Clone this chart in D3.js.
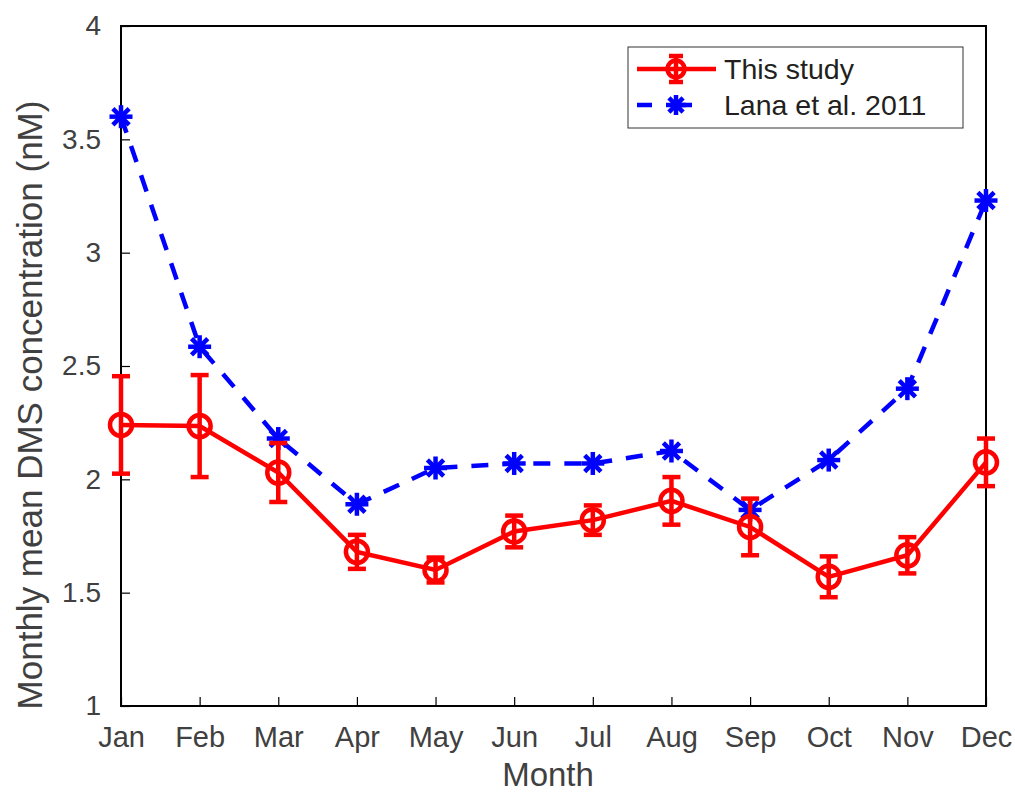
<!DOCTYPE html>
<html>
<head>
<meta charset="utf-8">
<style>
  body, html { margin: 0; padding: 0; background: #fff; overflow: hidden; }
  text { font-family: "Liberation Sans", Arial, Helvetica, sans-serif; }
</style>
</head>
<body>
<svg width="1015" height="794"></svg>
<script src="https://d3js.org/d3.v7.min.js"></script>
<script>
    var months = ["Jan","Feb","Mar","Apr","May","Jun","Jul","Aug","Sep","Oct","Nov","Dec"];
    var thisStudy = [2.24, 2.235, 2.03, 1.68, 1.60, 1.77, 1.82, 1.905, 1.79, 1.57, 1.665, 2.075];
    var thisStudyErr = [0.215, 0.225, 0.13, 0.075, 0.055, 0.07, 0.065, 0.105, 0.125, 0.09, 0.08, 0.105];
    var lana = [3.60, 2.585, 2.18, 1.89, 2.05, 2.07, 2.07, 2.125, 1.865, 2.085, 2.40, 3.23];
    var yTicks = [1, 1.5, 2, 2.5, 3, 3.5, 4];

    var svg = d3.select("svg");
    // plot area edges (avoid the global "top")
    var pLeft = 121, pRight = 986, pTop = 26, pBottom = 706;

    var x = d3.scalePoint().domain(months).range([pLeft, pRight]);
    var y = d3.scaleLinear().domain([1, 4]).range([pBottom, pTop]);

    // axes box
    svg.append("rect")
        .attr("x", pLeft).attr("y", pTop)
        .attr("width", pRight - pLeft).attr("height", pBottom - pTop)
        .attr("fill", "none").attr("stroke", "#000").attr("stroke-width", 2);

    var xAxis = svg.append("g")
        .attr("transform", "translate(0," + pBottom + ")")
        .call(d3.axisBottom(x).tickSizeInner(-9).tickSizeOuter(0).tickPadding(20));
    xAxis.select(".domain").remove();
    xAxis.selectAll("line").attr("stroke", "#000").attr("stroke-width", 1.2);
    xAxis.selectAll("text").attr("font-size", 29).attr("fill", "#404040")
        .attr("font-family", "Liberation Sans, Arial, sans-serif");

    var yAxis = svg.append("g")
        .attr("transform", "translate(" + pLeft + ",0)")
        .call(d3.axisLeft(y).tickValues(yTicks).tickFormat(d3.format("")).tickSizeInner(-9).tickSizeOuter(0).tickPadding(20));
    yAxis.select(".domain").remove();
    yAxis.selectAll("line").attr("stroke", "#000").attr("stroke-width", 1.2);
    yAxis.selectAll("text").attr("font-size", 28).attr("fill", "#404040")
        .attr("font-family", "Liberation Sans, Arial, sans-serif");

    // axis labels
    svg.append("text")
        .attr("x", 548).attr("y", 786)
        .attr("text-anchor", "middle").attr("font-size", 33).attr("fill", "#404040")
        .text("Month");
    svg.append("text")
        .attr("transform", "translate(42,405) rotate(-90)")
        .attr("text-anchor", "middle").attr("font-size", 35).attr("fill", "#404040")
        .text("Monthly mean DMS concentration (nM)");

    function asterisk(g, cx, cy, r) {
        var d = r * Math.SQRT1_2;
        var segs = [[-r,0,r,0],[0,-r,0,r],[-d,-d,d,d],[-d,d,d,-d]];
        segs.forEach(function (s) {
            g.append("line")
                .attr("x1", cx + s[0]).attr("y1", cy + s[1])
                .attr("x2", cx + s[2]).attr("y2", cy + s[3])
                .attr("stroke", "#0000ff").attr("stroke-width", 4.5);
        });
        g.append("circle").attr("cx", cx).attr("cy", cy).attr("r", r * 0.45).attr("fill", "#0000ff");
    }

    // Lana et al. series
    var line = d3.line().x(function (d, i) { return x(months[i]); }).y(function (d) { return y(d); });
    svg.append("path")
        .datum(lana)
        .attr("d", line)
        .attr("fill", "none").attr("stroke", "#0000ff").attr("stroke-width", 4.5)
        .attr("stroke-dasharray", "17,14");
    var blueMarks = svg.append("g");
    lana.forEach(function (v, i) { asterisk(blueMarks, x(months[i]), y(v), 11.5); });

    // This study series
    svg.append("path")
        .datum(thisStudy)
        .attr("d", line)
        .attr("fill", "none").attr("stroke", "#ff0000").attr("stroke-width", 4.5);
    var eb = svg.append("g").attr("stroke", "#ff0000").attr("stroke-width", 4.5).attr("fill", "none");
    thisStudy.forEach(function (v, i) {
        var cx = x(months[i]), e = thisStudyErr[i];
        eb.append("line").attr("x1", cx).attr("x2", cx).attr("y1", y(v - e)).attr("y2", y(v + e));
        eb.append("line").attr("x1", cx - 9).attr("x2", cx + 9).attr("y1", y(v - e)).attr("y2", y(v - e));
        eb.append("line").attr("x1", cx - 9).attr("x2", cx + 9).attr("y1", y(v + e)).attr("y2", y(v + e));
        eb.append("circle").attr("cx", cx).attr("cy", y(v)).attr("r", 11);
    });

    // legend
    var lg = svg.append("g");
    lg.append("rect")
        .attr("x", 628).attr("y", 47).attr("width", 335).attr("height", 81)
        .attr("fill", "#fff").attr("stroke", "#333").attr("stroke-width", 1);
    lg.append("line").attr("x1", 637).attr("x2", 716).attr("y1", 69).attr("y2", 69)
        .attr("stroke", "#ff0000").attr("stroke-width", 4.5);
    var lr = lg.append("g").attr("stroke", "#ff0000").attr("stroke-width", 4.5).attr("fill", "none");
    lr.append("line").attr("x1", 676).attr("x2", 676).attr("y1", 56).attr("y2", 82);
    lr.append("line").attr("x1", 669).attr("x2", 683).attr("y1", 56).attr("y2", 56);
    lr.append("line").attr("x1", 669).attr("x2", 683).attr("y1", 82).attr("y2", 82);
    lr.append("circle").attr("cx", 676).attr("cy", 69).attr("r", 8.5);
    lg.append("line").attr("x1", 637).attr("x2", 716).attr("y1", 105).attr("y2", 105)
        .attr("stroke", "#0000ff").attr("stroke-width", 4.5).attr("stroke-dasharray", "15,25");
    asterisk(lg, 676, 105, 10);
    lg.append("text").attr("x", 724).attr("y", 79).attr("font-size", 28.5).attr("fill", "#231f20").text("This study");
    lg.append("text").attr("x", 724).attr("y", 115).attr("font-size", 28.5).attr("fill", "#231f20").text("Lana et al. 2011");
</script>
</body>
</html>
